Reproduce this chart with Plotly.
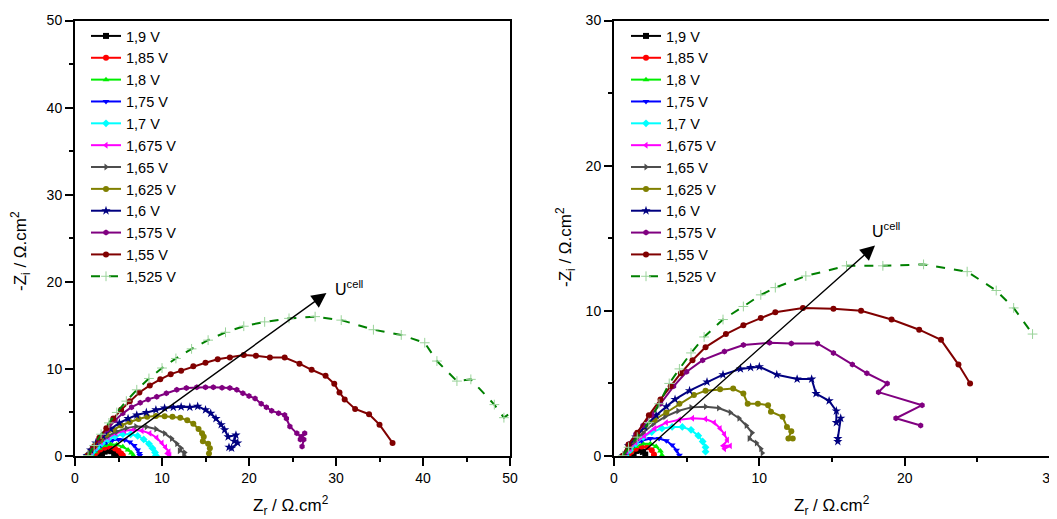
import plotly.graph_objects as go

W, H = 1057, 519
PAGE_OFFSET = 8  # default body margin of the html page

series_names = ["1,9 V", "1,85 V", "1,8 V", "1,75 V", "1,7 V", "1,675 V", "1,65 V",
                "1,625 V", "1,6 V", "1,575 V", "1,55 V", "1,525 V"]
colors = ["#000000", "#ff0000", "#00ee00", "#0000ff", "#00ffff", "#ff00ff", "#4d4d4d",
          "#808000", "#000080", "#800080", "#800000", "#008000"]
symbols = ["square", "circle", "triangle-up", "triangle-down", "diamond", "triangle-left",
           "triangle-right", "circle", "star", "hexagon", "circle", "cross-thin"]

# ---------------- left panel (Zr, -Zi) ----------------
L_zr_19 = [2.9, 3.1, 3.4, 3.8, 4.2, 4.5, 4.75]
L_zi_19 = [0.05, 0.3, 0.5, 0.6, 0.55, 0.35, 0.1]
L_zr_185 = [2.2, 2.5, 2.9, 3.4, 4.0, 4.6, 5.0, 5.3, 5.5]
L_zi_185 = [0.05, 0.45, 0.75, 0.95, 1.0, 0.85, 0.6, 0.3, 0.05]
L_zr_18 = [2.0, 2.3, 2.8, 3.4, 4.1, 4.8, 5.5, 6.1, 6.5, 6.7]
L_zi_18 = [0.05, 0.5, 0.9, 1.2, 1.35, 1.3, 1.05, 0.7, 0.35, 0.05]
L_zr_175 = [1.8, 2.1, 2.5, 3.0, 3.6, 4.3, 5.0, 5.7, 6.3, 6.8, 7.2, 7.4, 7.45]
L_zi_175 = [0.05, 0.4, 0.8, 1.2, 1.55, 1.8, 1.9, 1.85, 1.6, 1.2, 0.7, 0.3, 0.05]
L_zr_17 = [1.7, 2.0, 2.5, 3.1, 3.8, 4.6, 5.5, 6.4, 7.2, 7.9, 8.5, 8.9, 9.2, 9.3]
L_zi_17 = [0.05, 0.45, 0.95, 1.45, 1.9, 2.25, 2.5, 2.5, 2.3, 1.9, 1.4, 0.9, 0.4, 0.05]
L_zr_1675 = [1.6, 1.9, 2.4, 3.0, 3.8, 4.7, 5.7, 6.7, 7.7, 8.6, 9.4, 10.0, 10.4, 10.8, 10.6, 10.9]
L_zi_1675 = [0.05, 0.5, 1.05, 1.6, 2.15, 2.6, 2.9, 3.0, 2.9, 2.6, 2.1, 1.5, 1.0, 0.5, 0.3, 0.1]
L_zr_165 = [1.5, 1.8, 2.3, 3.0, 3.8, 4.8, 5.9, 7.0, 8.2, 9.3, 10.3, 11.1, 11.7, 12.2, 12.0, 12.6, 12.5]
L_zi_165 = [0.05, 0.5, 1.1, 1.7, 2.3, 2.8, 3.2, 3.4, 3.35, 3.1, 2.6, 2.0, 1.4, 0.9, 0.6, 0.4, 0.1]
L_zr_1625 = [1.4, 1.8, 2.3, 2.9, 3.6, 4.4, 5.3, 6.3, 7.3, 8.3, 9.3, 10.3, 11.2, 12.1, 12.9,
             13.6, 14.2, 14.6, 14.8, 14.7, 15.3, 15.5, 15.4]
L_zi_1625 = [0.05, 0.6, 1.2, 1.8, 2.5, 3.0, 3.5, 3.9, 4.25, 4.5, 4.6, 4.55, 4.5, 4.4, 4.1,
             3.7, 3.1, 2.6, 2.2, 1.7, 1.4, 0.9, 0.3]
L_zr_16 = [1.4, 1.8, 2.4, 3.2, 4.1, 5.1, 6.1, 7.1, 8.2, 9.3, 10.3, 11.3, 12.2, 13.2, 14.1,
           15.0, 15.6, 16.2, 16.8, 17.2, 17.6, 18.5, 18.3, 18.7, 18.0, 17.7]
L_zi_16 = [0.05, 0.7, 1.5, 2.3, 3.1, 3.8, 4.3, 4.7, 5.0, 5.3, 5.5, 5.6, 5.65, 5.6, 5.7,
           5.3, 4.9, 4.3, 3.6, 3.0, 2.2, 2.4, 1.7, 1.5, 0.9, 1.0]
L_zr_1575 = [1.5, 2.0, 2.7, 3.7, 4.6, 5.5, 6.5, 7.5, 8.4, 9.4, 10.5, 11.7, 12.8, 14.0, 15.0,
             15.9, 16.9, 17.8, 18.6, 19.3, 20.0, 20.7, 21.4, 22.0, 22.6, 23.4, 24.1, 24.3,
             24.7, 25.5, 26.0, 26.4, 25.9, 26.3, 26.1]
L_zi_1575 = [0.05, 0.9, 1.8, 3.0, 4.1, 4.9, 5.6, 6.1, 6.5, 6.8, 7.2, 7.6, 7.8, 7.9, 7.9,
             7.9, 7.85, 7.8, 7.6, 7.2, 6.9, 6.6, 6.0, 5.6, 5.2, 4.9, 4.7, 4.3,
             3.4, 2.6, 2.2, 2.6, 1.9, 1.9, 1.1]
L_zr_155 = [1.5, 2.1, 2.8, 3.6, 4.4, 5.3, 6.3, 7.4, 8.6, 9.8, 11.0, 12.2, 13.6, 15.0, 16.4,
            17.8, 19.4, 20.8, 22.4, 24.1, 25.8, 27.2, 28.8, 29.8, 30.4, 31.0, 32.2, 33.8,
            35.0, 36.5]
L_zi_155 = [0.05, 1.0, 2.1, 3.2, 4.3, 5.3, 6.3, 7.3, 8.1, 8.8, 9.4, 9.8, 10.3, 10.7, 11.1,
            11.3, 11.6, 11.5, 11.3, 11.3, 10.6, 9.9, 9.2, 8.3, 7.3, 6.5, 5.4, 4.8,
            3.6, 1.5]
L_zr_1525 = [1.5, 2.2, 3.0, 3.9, 4.8, 5.9, 7.1, 8.5, 10.0, 11.6, 13.4, 15.3, 17.3, 19.4,
             21.8, 24.6, 27.6, 30.6, 34.3, 37.5, 40.2, 41.6, 43.9, 45.5, 48.2, 49.3, 51.0]
L_zi_1525 = [0.05, 1.2, 2.5, 3.8, 5.0, 6.3, 7.6, 8.9, 10.1, 11.2, 12.3, 13.3, 14.2, 14.9,
             15.4, 15.8, 16.0, 15.6, 14.5, 13.9, 13.0, 10.9, 8.6, 8.8, 5.9, 4.4, 5.6]

# ---------------- right panel (Zr, -Zi) ----------------
R_zr_19 = [1.2, 1.35, 1.55, 1.8, 2.0, 2.15]
R_zi_19 = [0.02, 0.2, 0.35, 0.4, 0.3, 0.1]
R_zr_185 = [1.0, 1.2, 1.5, 1.9, 2.3, 2.6, 2.75]
R_zi_185 = [0.02, 0.3, 0.5, 0.65, 0.6, 0.4, 0.1]
R_zr_18 = [0.9, 1.1, 1.5, 2.0, 2.5, 2.9, 3.2, 3.3]
R_zi_18 = [0.02, 0.35, 0.65, 0.85, 0.85, 0.65, 0.35, 0.05]
R_zr_175 = [0.8, 1.0, 1.4, 1.9, 2.5, 3.1, 3.6, 4.0, 4.3, 4.5]
R_zi_175 = [0.02, 0.35, 0.75, 1.05, 1.2, 1.2, 1.05, 0.75, 0.4, 0.05]
R_zr_17 = [0.8, 1.1, 1.5, 2.0, 2.6, 3.3, 4.0, 4.7, 5.3, 5.8, 6.1, 6.3, 6.3]
R_zi_17 = [0.02, 0.4, 0.85, 1.3, 1.65, 1.9, 2.0, 2.0, 1.8, 1.4, 1.0, 0.6, 0.3]
R_zr_1675 = [0.8, 1.1, 1.5, 2.1, 2.8, 3.6, 4.5, 5.4, 6.3, 6.9, 7.3, 7.6, 7.8, 7.5, 8.0, 7.6]
R_zi_1675 = [0.02, 0.5, 0.95, 1.4, 1.9, 2.3, 2.5, 2.6, 2.55, 2.3, 1.9, 1.5, 1.1, 0.7, 0.7, 0.5]
R_zr_165 = [0.7, 1.0, 1.4, 2.0, 2.7, 3.5, 4.4, 5.3, 6.3, 7.2, 8.0, 8.6, 9.1, 9.5, 9.3, 9.8,
            10.1, 10.2]
R_zi_165 = [0.02, 0.5, 1.0, 1.6, 2.2, 2.7, 3.1, 3.35, 3.4, 3.3, 3.0, 2.6, 2.1, 1.6, 1.2, 0.9,
            0.5, 0.2]
R_zr_1625 = [0.65, 1.0, 1.5, 2.1, 2.8, 3.6, 4.5, 5.5, 6.3, 7.3, 8.2, 8.9, 9.2, 9.9, 10.6,
             10.8, 11.6, 11.9, 12.2, 12.0, 12.3]
R_zi_1625 = [0.02, 0.6, 1.3, 2.0, 2.5, 3.0, 3.6, 4.2, 4.5, 4.6, 4.65, 4.3, 3.6, 3.6, 3.5,
             3.05, 2.7, 2.0, 1.7, 1.2, 1.2]
R_zr_16 = [0.65, 1.0, 1.5, 2.1, 2.9, 3.6, 4.2, 5.2, 6.4, 7.5, 8.7, 9.4, 10.0, 11.2, 12.6,
           13.6, 13.9, 14.8, 15.3, 15.3, 15.6, 15.4, 15.4]
R_zi_16 = [0.02, 0.7, 1.3, 2.0, 2.8, 3.4, 3.9, 4.5, 5.1, 5.6, 6.0, 6.1, 6.15, 5.6, 5.3,
           5.3, 4.3, 3.8, 3.1, 2.3, 2.6, 1.2, 1.0]
R_zr_1575 = [0.6, 1.0, 1.5, 2.0, 2.6, 3.2, 4.1, 5.0, 6.1, 7.6, 8.9, 10.7, 12.2, 14.0, 15.1,
             16.4, 17.4, 18.8, 18.2, 21.2, 19.4, 21.1]
R_zi_1575 = [0.02, 0.8, 1.5, 2.1, 2.8, 3.6, 4.8, 5.8, 6.6, 7.2, 7.65, 7.8, 7.75, 7.75, 7.1,
             6.3, 5.7, 5.0, 4.4, 3.5, 2.6, 2.1]
R_zr_155 = [0.6, 1.0, 1.6, 2.4, 3.2, 3.9, 4.6, 5.4, 6.3, 7.7, 8.9, 10.1, 11.1, 13.0, 15.1,
            17.0, 19.1, 21.0, 22.5, 23.7, 24.5]
R_zi_155 = [0.02, 0.8, 1.6, 2.8, 3.9, 4.8, 5.7, 6.6, 7.5, 8.4, 9.0, 9.5, 9.9, 10.2, 10.15,
            10.0, 9.4, 8.7, 8.0, 6.3, 5.0]
R_zr_1525 = [0.6, 1.0, 1.6, 2.4, 3.1, 3.8, 4.5, 5.3, 6.2, 7.5, 8.9, 10.1, 11.1, 13.2, 16.0,
             18.5, 21.3, 24.3, 26.3, 27.5, 28.8]
R_zi_1525 = [0.02, 0.6, 1.3, 2.3, 3.6, 5.0, 6.0, 7.1, 8.2, 9.4, 10.3, 11.1, 11.6, 12.4, 13.1,
             13.1, 13.2, 12.7, 11.4, 10.2, 8.4]

left_data = [(L_zr_19, L_zi_19), (L_zr_185, L_zi_185), (L_zr_18, L_zi_18), (L_zr_175, L_zi_175),
             (L_zr_17, L_zi_17), (L_zr_1675, L_zi_1675), (L_zr_165, L_zi_165),
             (L_zr_1625, L_zi_1625), (L_zr_16, L_zi_16), (L_zr_1575, L_zi_1575),
             (L_zr_155, L_zi_155), (L_zr_1525, L_zi_1525)]
right_data = [(R_zr_19, R_zi_19), (R_zr_185, R_zi_185), (R_zr_18, R_zi_18), (R_zr_175, R_zi_175),
              (R_zr_17, R_zi_17), (R_zr_1675, R_zi_1675), (R_zr_165, R_zi_165),
              (R_zr_1625, R_zi_1625), (R_zr_16, R_zi_16), (R_zr_1575, R_zi_1575),
              (R_zr_155, R_zi_155), (R_zr_1525, R_zi_1525)]

# arrows (tail -> tip) in data units
L_arrow_tail = (3.0, 0.0)
L_arrow_tip = (28.9, 18.7)
R_arrow_tail = (1.7, 0.0)
R_arrow_tip = (17.96, 14.5)

FONT = "Liberation Sans, Arial, sans-serif"


def PX(px):
    return (px - PAGE_OFFSET) / W


def PY(py):
    return 1 - (py - PAGE_OFFSET) / H


fig = go.Figure()


def add_series(data, xa, ya, leg):
    for i, (zr, zi) in enumerate(data):
        c = colors[i]
        green_last = i == len(data) - 1
        marker = dict(symbol=symbols[i], size=7 if symbols[i] == "star" else 6, color=c,
                      line=dict(width=0, color=c))
        if green_last:
            marker = dict(symbol="cross-thin", size=7, color="#9ad39a",
                          line=dict(width=1, color="#9ad39a"))
        fig.add_trace(go.Scatter(
            x=zr, y=zi, mode="lines+markers", name=series_names[i],
            xaxis=xa, yaxis=ya, legend=leg,
            line=dict(color=c, width=2, dash="dash" if green_last else "solid"),
            marker=marker,
        ))


add_series(left_data, "x", "y", "legend")
add_series(right_data, "x2", "y2", "legend2")

xdomL = [PX(75), PX(510)]
xdomR = [PX(614), PX(1050)]
ydom = [PY(456), PY(20.5)]

axis_common = dict(showgrid=False, zeroline=False, showline=True, linecolor="black",
                   linewidth=2, mirror=True, ticks="outside", ticklen=8, tickwidth=1.5,
                   tickcolor="black", automargin=False,
                   tickfont=dict(family=FONT, size=14, color="black"))
minor5 = dict(ticks="outside", ticklen=4, tickwidth=1.5, tickcolor="black", dtick=5)

legend_common = dict(xanchor="left", yanchor="top", bgcolor="rgba(0,0,0,0)",
                     font=dict(family=FONT, size=14.5, color="black"), tracegroupgap=0)

fig.update_layout(
    width=W, height=H, margin=dict(l=0, r=0, t=0, b=0, autoexpand=False),
    paper_bgcolor="white", plot_bgcolor="white",
    font=dict(family=FONT, color="black"),
    xaxis=dict(domain=xdomL, range=[0, 50], dtick=10, minor=minor5, anchor="y", **axis_common),
    yaxis=dict(domain=ydom, range=[0, 50], dtick=10, minor=minor5, anchor="x", **axis_common),
    xaxis2=dict(domain=xdomR, range=[0, 30], dtick=10, minor=minor5, anchor="y2", **axis_common),
    yaxis2=dict(domain=ydom, range=[0, 30], dtick=10, minor=minor5, anchor="x2", **axis_common),
    legend=dict(x=PX(86), y=PY(20), **legend_common),
    legend2=dict(x=PX(626), y=PY(20), **legend_common),
    showlegend=True,
)

annotations = []
for (xr, yr, tail, tip) in [("x", "y", L_arrow_tail, L_arrow_tip),
                            ("x2", "y2", R_arrow_tail, R_arrow_tip)]:
    annotations.append(dict(xref=xr, yref=yr, axref=xr, ayref=yr, x=tip[0], y=tip[1],
                            ax=tail[0], ay=tail[1], text="", showarrow=True,
                            arrowhead=2, arrowsize=2.1, arrowwidth=1.4, arrowcolor="black",
                            standoff=0, startstandoff=0))

annotations.append(dict(xref="x", yref="y", x=29.6, y=19.3, xanchor="left", yanchor="middle",
                        text="U<sup>cell</sup>", showarrow=False,
                        font=dict(family=FONT, size=16, color="black")))
annotations.append(dict(xref="x2", yref="y2", x=17.6, y=15.6, xanchor="left", yanchor="middle",
                        text="U<sup>cell</sup>", showarrow=False,
                        font=dict(family=FONT, size=16, color="black")))

ytitle = "-Z<sub>i</sub> / Ω.cm<sup>2</sup>"
xtitle = "Z<sub>r</sub> / Ω.cm<sup>2</sup>"
for (px, py, txt, ang) in [(20, 251, ytitle, -90), (565, 247, ytitle, -90),
                           (291, 505, xtitle, 0), (832, 505, xtitle, 0)]:
    annotations.append(dict(xref="paper", yref="paper", x=PX(px), y=PY(py),
                            xanchor="center", yanchor="middle", text=txt, textangle=ang,
                            showarrow=False, font=dict(family=FONT, size=17, color="black")))

fig.update_layout(annotations=annotations)

fig.write_html("out.html")
